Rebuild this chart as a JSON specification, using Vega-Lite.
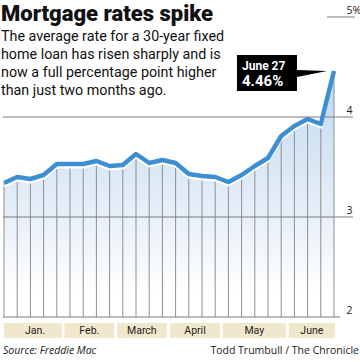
{
  "$schema": "https://vega.github.io/schema/vega-lite/v6.json",
  "width": 360,
  "height": 362,
  "autosize": {"type": "none"},
  "padding": 0,
  "background": "white",
  "config": {
    "view": {"stroke": null},
    "axisX": {"disable": true}
  },
  "title": {
    "text": "Mortgage rates spike",
    "subtitle": [
      "The average rate for a 30-year fixed",
      "home loan has risen sharply and is",
      "now a full percentage point higher",
      "than just two months ago."
    ],
    "anchor": "start",
    "frame": "group",
    "offset": -99,
    "dx": 1,
    "font": "Roboto",
    "fontSize": 22,
    "fontWeight": 900,
    "color": "#111111",
    "subtitleFont": "Roboto",
    "subtitleFontSize": 14.3,
    "subtitleColor": "#111111",
    "subtitleLineHeight": 17.8,
    "subtitlePadding": 4.5
  },
  "datasets": {
    "rates": [
      {"date": "2013-01-03", "rate": 3.34},
      {"date": "2013-01-10", "rate": 3.40},
      {"date": "2013-01-17", "rate": 3.38},
      {"date": "2013-01-24", "rate": 3.42},
      {"date": "2013-01-31", "rate": 3.53},
      {"date": "2013-02-07", "rate": 3.53},
      {"date": "2013-02-14", "rate": 3.53},
      {"date": "2013-02-21", "rate": 3.56},
      {"date": "2013-02-28", "rate": 3.51},
      {"date": "2013-03-07", "rate": 3.52},
      {"date": "2013-03-14", "rate": 3.63},
      {"date": "2013-03-21", "rate": 3.54},
      {"date": "2013-03-28", "rate": 3.57},
      {"date": "2013-04-04", "rate": 3.54},
      {"date": "2013-04-11", "rate": 3.43},
      {"date": "2013-04-18", "rate": 3.41},
      {"date": "2013-04-25", "rate": 3.40},
      {"date": "2013-05-02", "rate": 3.35},
      {"date": "2013-05-09", "rate": 3.42},
      {"date": "2013-05-16", "rate": 3.51},
      {"date": "2013-05-23", "rate": 3.59},
      {"date": "2013-05-30", "rate": 3.81},
      {"date": "2013-06-06", "rate": 3.91},
      {"date": "2013-06-13", "rate": 3.98},
      {"date": "2013-06-20", "rate": 3.93},
      {"date": "2013-06-27", "rate": 4.46}
    ],
    "months": [
      {"month": "Jan.", "start": "2013-01-03T00:00:00Z", "end": "2013-02-02T18:00:00Z", "mid": "2013-01-19T10:00:00Z"},
      {"month": "Feb.", "start": "2013-02-04T00:00:00Z", "end": "2013-03-02T12:00:00Z", "mid": "2013-02-17T06:00:00Z"},
      {"month": "March", "start": "2013-03-03T22:00:00Z", "end": "2013-03-30T07:00:00Z", "mid": "2013-03-17T02:00:00Z"},
      {"month": "April", "start": "2013-04-01T00:00:00Z", "end": "2013-04-27T13:00:00Z", "mid": "2013-04-14T07:00:00Z"},
      {"month": "May", "start": "2013-04-29T00:00:00Z", "end": "2013-06-01T13:00:00Z", "mid": "2013-05-15T18:00:00Z"},
      {"month": "June", "start": "2013-06-03T00:00:00Z", "end": "2013-06-27T12:00:00Z", "mid": "2013-06-15T06:00:00Z"}
    ],
    "one": [{}]
  },
  "layer": [
    {
      "data": {"name": "rates"},
      "mark": {"type": "area", "interpolate": "linear",
        "color": {"gradient": "linear", "x1": 0, "y1": 0, "x2": 0, "y2": 1,
          "stops": [
            {"offset": 0, "color": "#bcd5ee"},
            {"offset": 0.2, "color": "#cde0f2"},
            {"offset": 0.6, "color": "#e8f0f9"},
            {"offset": 0.9, "color": "#ffffff"}
          ]}},
      "encoding": {
        "x": {"field": "date", "type": "temporal",
          "scale": {"type": "utc", "nice": false,
            "domain": [
              {"year": 2012, "month": 12, "date": 31, "hours": 21, "utc": true},
              {"year": 2013, "month": 7, "date": 10, "hours": 19, "utc": true}
            ]}},
        "y": {"field": "rate", "type": "quantitative",
          "scale": {"domain": [1.55, 5.17], "nice": false, "zero": false},
          "axis": {
            "orient": "right", "values": [2, 3, 4, 5], "title": null,
            "domain": false, "ticks": false, "grid": false,
            "labelPadding": -14, "labelAlign": "left", "labelBaseline": "alphabetic",
            "labelOffset": -4, "labelFont": "Open Sans", "labelFontSize": 10.5,
            "labelColor": "#222222",
            "labelExpr": "datum.value == 5 ? '5%' : format(datum.value, 'd')"
          }},
        "y2": {"datum": 2}
      }
    },
    {
      "data": {"name": "rates"},
      "mark": {"type": "rule", "color": "#8f8f8f", "strokeWidth": 1},
      "encoding": {
        "x": {"field": "date", "type": "temporal"},
        "y": {"field": "rate", "type": "quantitative"},
        "y2": {"datum": 2}
      }
    },
    {
      "data": {"name": "one"},
      "mark": {"type": "rule", "color": "#7a7a7a", "strokeWidth": 1},
      "encoding": {
        "y": {"datum": 4},
        "x": {"datum": {"year": 2013, "month": 1, "date": 2, "hours": 11, "utc": true}},
        "x2": {"datum": {"year": 2013, "month": 7, "date": 7, "hours": 2, "utc": true}}
      }
    },
    {
      "data": {"name": "one"},
      "mark": {"type": "rule", "color": "#7a7a7a", "strokeWidth": 1},
      "encoding": {
        "y": {"datum": 3},
        "x": {"datum": {"year": 2013, "month": 1, "date": 2, "hours": 11, "utc": true}},
        "x2": {"datum": {"year": 2013, "month": 7, "date": 7, "hours": 2, "utc": true}}
      }
    },
    {
      "data": {"name": "one"},
      "mark": {"type": "rule", "color": "#7a7a7a", "strokeWidth": 1},
      "encoding": {
        "y": {"datum": 2},
        "x": {"datum": {"year": 2013, "month": 1, "date": 2, "hours": 11, "utc": true}},
        "x2": {"datum": {"year": 2013, "month": 6, "date": 30, "hours": 6, "utc": true}}
      }
    },
    {
      "data": {"name": "one"},
      "mark": {"type": "rule", "color": "#7a7a7a", "strokeWidth": 1},
      "encoding": {
        "y": {"datum": 5},
        "x": {"datum": {"year": 2013, "month": 6, "date": 23, "hours": 7, "utc": true}},
        "x2": {"datum": {"year": 2013, "month": 7, "date": 8, "hours": 3, "utc": true}}
      }
    },
    {
      "data": {"name": "rates"},
      "mark": {"type": "line", "color": "#ffffff", "strokeWidth": 3, "yOffset": 3, "strokeJoin": "round"},
      "encoding": {
        "x": {"field": "date", "type": "temporal"},
        "y": {"field": "rate", "type": "quantitative"}
      }
    },
    {
      "data": {"name": "rates"},
      "mark": {"type": "line", "color": "#3d8fd1", "strokeWidth": 4.5, "strokeJoin": "round"},
      "encoding": {
        "x": {"field": "date", "type": "temporal"},
        "y": {"field": "rate", "type": "quantitative"}
      }
    },
    {
      "data": {"name": "months"},
      "mark": {"type": "bar", "color": "#f0e8cc"},
      "encoding": {
        "x": {"field": "start", "type": "temporal"},
        "x2": {"field": "end"},
        "y": {"datum": 1.94},
        "y2": {"datum": 1.79}
      }
    },
    {
      "data": {"name": "months"},
      "mark": {"type": "text", "font": "Roboto", "fontSize": 10.5, "color": "#222222", "baseline": "alphabetic", "align": "center"},
      "encoding": {
        "x": {"field": "mid", "type": "temporal"},
        "y": {"datum": 1.828},
        "text": {"field": "month"}
      }
    },
    {
      "data": {"name": "one"},
      "mark": {"type": "rect", "color": "#000000"},
      "encoding": {
        "x": {"datum": {"year": 2013, "month": 5, "date": 6, "hours": 13, "utc": true}},
        "x2": {"datum": {"year": 2013, "month": 6, "date": 7, "hours": 9, "utc": true}},
        "y": {"datum": 4.62},
        "y2": {"datum": 4.26}
      }
    },
    {
      "data": {"name": "one"},
      "mark": {"type": "point", "filled": true, "color": "#000000", "opacity": 1, "size": 900,
        "shape": "M -1 -0.233 L 1 -0.167 L -1 0.233 Z"},
      "encoding": {
        "x": {"datum": {"year": 2013, "month": 6, "date": 15, "hours": 8, "utc": true}},
        "y": {"datum": 4.435}
      }
    },
    {
      "data": {"name": "one"},
      "mark": {"type": "text", "font": "Roboto", "fontWeight": "bold", "fontSize": 12, "color": "#ffffff", "align": "left", "baseline": "alphabetic", "text": "June 27"},
      "encoding": {
        "x": {"datum": {"year": 2013, "month": 5, "date": 9, "hours": 5, "utc": true}},
        "y": {"datum": 4.47}
      }
    },
    {
      "data": {"name": "one"},
      "mark": {"type": "text", "font": "Roboto", "fontWeight": "bold", "fontSize": 15, "color": "#ffffff", "align": "left", "baseline": "alphabetic", "text": "4.46%"},
      "encoding": {
        "x": {"datum": {"year": 2013, "month": 5, "date": 9, "hours": 5, "utc": true}},
        "y": {"datum": 4.313}
      }
    },
    {
      "data": {"name": "one"},
      "mark": {"type": "text", "font": "Open Sans", "fontStyle": "italic", "fontSize": 10.5, "color": "#222222", "align": "left", "baseline": "alphabetic", "text": "Source: Freddie Mac"},
      "encoding": {
        "x": {"datum": {"year": 2013, "month": 1, "date": 2, "hours": 11, "utc": true}},
        "y": {"datum": 1.63}
      }
    },
    {
      "data": {"name": "one"},
      "mark": {"type": "text", "font": "Open Sans", "fontSize": 10.5, "color": "#222222", "align": "right", "baseline": "alphabetic", "text": "Todd Trumbull / The Chronicle"},
      "encoding": {
        "x": {"datum": {"year": 2013, "month": 7, "date": 10, "hours": 6, "utc": true}},
        "y": {"datum": 1.63}
      }
    }
  ]
}
